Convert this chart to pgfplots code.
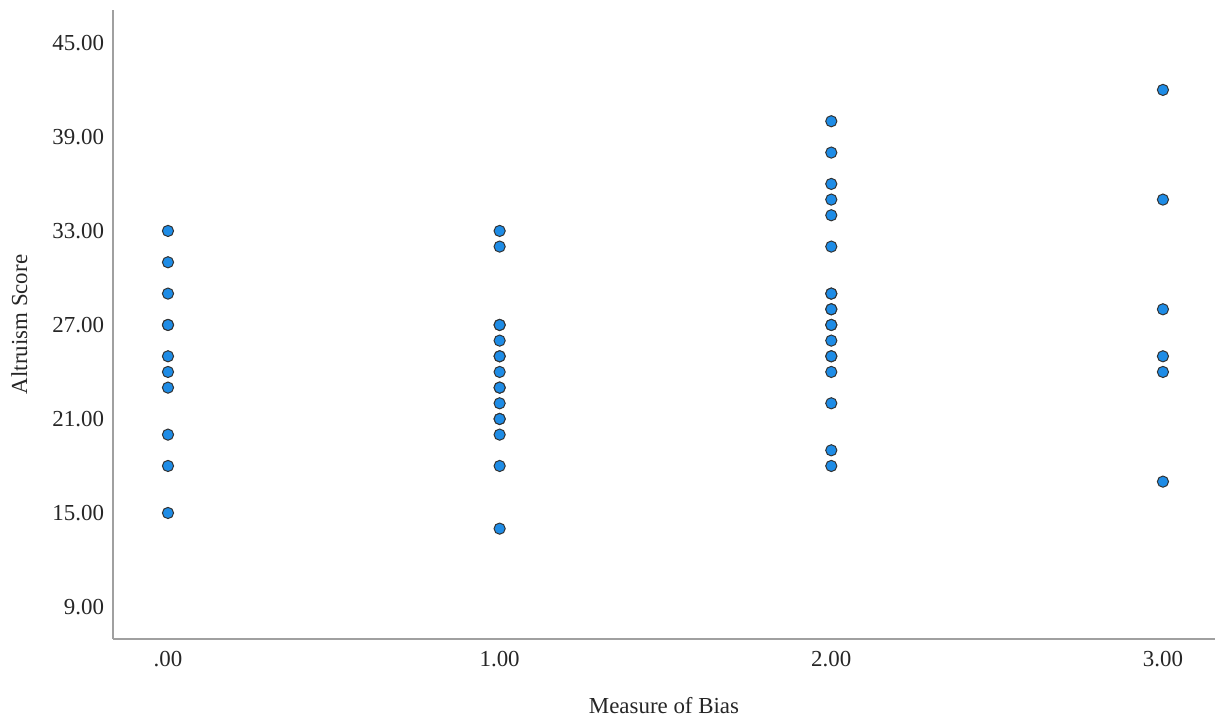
\documentclass[border=0pt]{standalone}
\usepackage{fontspec}
\setmainfont{Liberation Serif}
\usepackage{pgfplots}
\pgfplotsset{compat=1.18}
\definecolor{dotblue}{RGB}{30,140,230}
\definecolor{axgray}{RGB}{160,160,160}
\begin{document}
\begin{tikzpicture}
\begin{axis}[
  name=ax,
  scale only axis,
  width=551bp, height=314.5bp,
  xmin=-0.1658, xmax=3.157,
  ymin=6.957, ymax=47.1,
  axis lines*=left,
  axis line style={draw=axgray, line width=0.8bp},
  major tick length=0pt,
  xtick={0,1,2,3},
  xticklabels={.00,1.00,2.00,3.00},
  ytick={9,15,21,27,33,39,45},
  yticklabels={9.00,15.00,21.00,27.00,33.00,39.00,45.00},
  tick label style={font=\fontsize{11.5}{14}\selectfont, text=black!85},
  yticklabel style={xshift=-1bp},
  xticklabel style={yshift=-2.5bp},
  label style={font=\fontsize{11.5}{14}\selectfont, text=black!85},
  xlabel={Measure of Bias},
  ylabel={Altruism Score},
  xlabel style={at={(axis description cs:0.5,-0.119)}, anchor=base},
  ylabel style={at={(axis description cs:-0.078,0.5)}, anchor=base, rotate=0},
  clip=false,
]
\addplot[only marks, mark=*, mark size=2.8bp,
  mark options={fill=dotblue, draw=black!80, line width=0.5bp}]
  coordinates {
  (0,33) (0,31) (0,29) (0,27) (0,27) (0,25) (0,24) (0,23) (0,20) (0,18) (0,15)
  (1,33) (1,32) (1,27) (1,27) (1,26) (1,25) (1,25) (1,24) (1,23) (1,23) (1,22) (1,21) (1,21) (1,20) (1,18) (1,14)
  (2,40) (2,38) (2,36) (2,35) (2,34) (2,32) (2,29) (2,29) (2,28) (2,28) (2,27) (2,27) (2,26) (2,25) (2,25) (2,24) (2,22) (2,19) (2,18)
  (3,42) (3,35) (3,28) (3,25) (3,24) (3,17)
  };
\end{axis}
\pgfresetboundingbox
\path ([xshift=-56.5bp,yshift=-39bp]ax.south west) rectangle ([xshift=2bp,yshift=5bp]ax.north east);
\end{tikzpicture}
\end{document}
